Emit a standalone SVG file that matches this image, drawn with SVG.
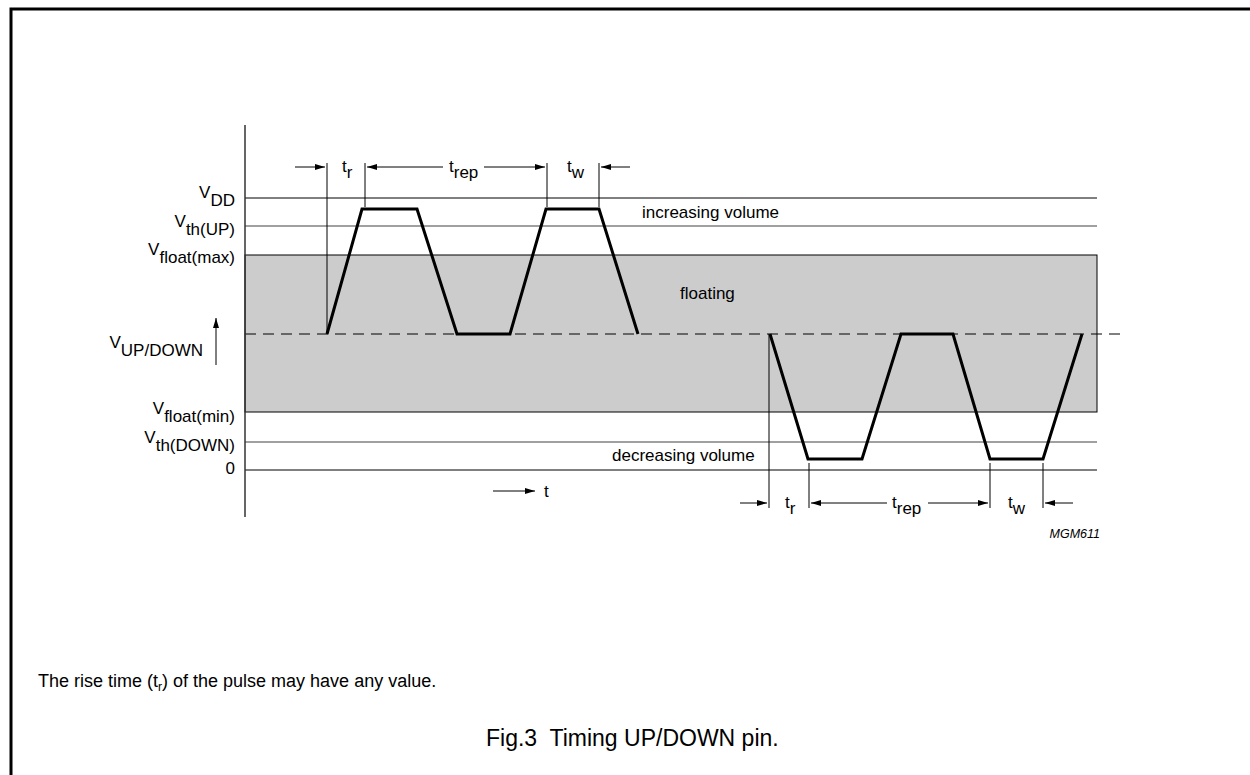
<svg xmlns="http://www.w3.org/2000/svg" width="1250" height="775" viewBox="0 0 1250 775">
<style>
text{font-family:"Liberation Sans",Arial,sans-serif;fill:#000}
.lbl{font-size:17px}
.thin{stroke:#000;stroke-width:1;fill:none}
.gray{stroke:#808080;stroke-width:1.5;fill:none}
.pulse{stroke:#000;stroke-width:3;fill:none;stroke-linejoin:miter}
.dash{stroke:#000;stroke-width:1;stroke-dasharray:11 7;fill:none}
</style>
<defs>
<marker id="ah" viewBox="0 0 10 6" refX="10" refY="3" markerWidth="10" markerHeight="6" markerUnits="userSpaceOnUse" orient="auto">
<path d="M0,0 L10,3 L0,6 Z" fill="#000"/>
</marker>
</defs>
<rect width="1250" height="775" fill="#fff"/>
<path d="M11,775 V9 H1250" fill="none" stroke="#000" stroke-width="3"/>

<g id="floating-band">
<rect x="245" y="255" width="852" height="157" fill="#cccccc" stroke="#000" stroke-width="1"/>
</g>

<g id="levels">
<line class="thin" x1="245" y1="198" x2="1097" y2="198"/>
<line class="gray" x1="245" y1="226" x2="1097" y2="226"/>
<line class="gray" x1="245" y1="442" x2="1097" y2="442"/>
<line class="thin" x1="245" y1="470" x2="1097" y2="470"/>
<line class="dash" x1="245" y1="334" x2="1125" y2="334"/>
<line x1="245" y1="125" x2="245" y2="517" stroke="#333" stroke-width="1.5"/>
</g>

<g id="labels">
<text class="lbl" x="235" y="198" text-anchor="end">V<tspan dy="8">DD</tspan></text>
<text class="lbl" x="235" y="227" text-anchor="end">V<tspan dy="8">th(UP)</tspan></text>
<text class="lbl" x="235" y="255" text-anchor="end">V<tspan dy="8">float(max)</tspan></text>
<text class="lbl" x="203" y="348" text-anchor="end">V<tspan dy="8">UP/DOWN</tspan></text>
<text class="lbl" x="235" y="414" text-anchor="end">V<tspan dy="8">float(min)</tspan></text>
<text class="lbl" x="235" y="443" text-anchor="end">V<tspan dy="8">th(DOWN)</tspan></text>
<text class="lbl" x="235" y="474" text-anchor="end">0</text>
<text class="lbl" x="642" y="218">increasing volume</text>
<text class="lbl" x="680" y="299">floating</text>
<text class="lbl" x="612" y="461">decreasing volume</text>
<text x="1100" y="538" text-anchor="end" font-size="12.5" font-style="italic">MGM611</text>
</g>

<g id="pulses">
<path class="pulse" d="M327,334 L362,209 H417 L457,334 H510 L546,209 H599 L638,334"/>
<path class="pulse" d="M770,334 L808,459 H862 L901,334 H953 L990,459 H1043 L1082,334"/>
</g>

<g id="connectors">
<line class="thin" x1="216" y1="365" x2="216" y2="318" marker-end="url(#ah)"/>
<line class="thin" x1="493" y1="491" x2="535" y2="491" marker-end="url(#ah)"/>

<line class="thin" x1="327" y1="163" x2="327" y2="334"/>
<line class="thin" x1="365" y1="163" x2="365" y2="207"/>
<line class="thin" x1="547" y1="163" x2="547" y2="207"/>
<line class="thin" x1="599" y1="163" x2="599" y2="207"/>
<line class="thin" x1="295" y1="167" x2="325" y2="167" marker-end="url(#ah)"/>
<line class="thin" x1="443" y1="167" x2="367" y2="167" marker-end="url(#ah)"/>
<line class="thin" x1="484" y1="167" x2="545" y2="167" marker-end="url(#ah)"/>
<line class="thin" x1="630" y1="167" x2="601" y2="167" marker-end="url(#ah)"/>

<line class="thin" x1="769" y1="334" x2="769" y2="508"/>
<line class="thin" x1="809" y1="463" x2="809" y2="508"/>
<line class="thin" x1="990" y1="463" x2="990" y2="508"/>
<line class="thin" x1="1043" y1="463" x2="1043" y2="508"/>
<line class="thin" x1="740" y1="503" x2="767" y2="503" marker-end="url(#ah)"/>
<line class="thin" x1="887" y1="503" x2="811" y2="503" marker-end="url(#ah)"/>
<line class="thin" x1="928" y1="503" x2="988" y2="503" marker-end="url(#ah)"/>
<line class="thin" x1="1073" y1="503" x2="1045" y2="503" marker-end="url(#ah)"/>
</g>

<g id="time-labels">
<text class="lbl" x="342" y="172">t<tspan dy="6">r</tspan></text>
<text class="lbl" x="449" y="172">t<tspan dy="6">rep</tspan></text>
<text class="lbl" x="567" y="172">t<tspan dy="6">w</tspan></text>
<text class="lbl" x="544" y="497">t</text>
<text class="lbl" x="785" y="508">t<tspan dy="6">r</tspan></text>
<text class="lbl" x="892" y="508">t<tspan dy="6">rep</tspan></text>
<text class="lbl" x="1008" y="508">t<tspan dy="6">w</tspan></text>
</g>

<g id="notes">
<text x="38" y="687" font-size="18">The rise time (t<tspan font-size="12" dy="4">r</tspan><tspan dy="-4">) of the pulse may have any value.</tspan></text>
<text x="486" y="746" font-size="23">Fig.3&#160; Timing UP/DOWN pin.</text>
</g>
</svg>
